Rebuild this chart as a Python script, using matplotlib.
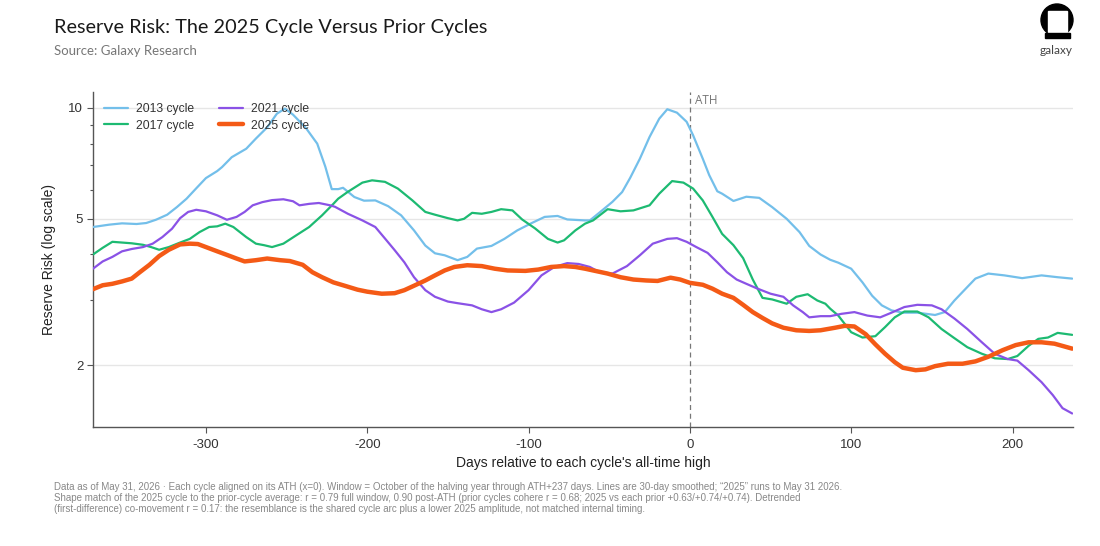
import matplotlib
matplotlib.use("Agg")
import matplotlib.pyplot as plt
from matplotlib.ticker import FixedLocator, NullFormatter, FuncFormatter
from matplotlib.patches import Circle, Rectangle

# ---------------- data ----------------
days_2013 = [-370, -360, -352, -343, -337, -331, -324, -318, -312, -306, -300, -293, -290, -284,
             -275, -269, -262, -256, -251, -246, -238, -231, -226, -222, -218, -215, -208, -202,
             -195, -187, -179, -171, -164, -158, -152, -144, -138, -132, -123, -115, -107, -98,
             -90, -82, -76, -65, -62, -56, -48, -42, -37, -31, -25, -19, -14, -8, -2, 2, 8, 12,
             17, 20, 27, 35, 43, 51, 60, 68, 74, 81, 87, 92, 100, 107, 113, 119, 125, 132, 141,
             152, 158, 164, 171, 177, 185, 195, 206, 218, 228, 237]
rr_2013 = [4.75, 4.82, 4.86, 4.84, 4.87, 4.97, 5.13, 5.38, 5.67, 6.05, 6.45, 6.74, 6.91, 7.35,
           7.75, 8.26, 8.86, 9.65, 9.96, 9.59, 8.82, 8.00, 6.93, 6.02, 6.02, 6.07, 5.73, 5.60,
           5.61, 5.41, 5.11, 4.65, 4.23, 4.03, 3.98, 3.86, 3.94, 4.15, 4.22, 4.41, 4.65, 4.87,
           5.06, 5.09, 4.98, 4.95, 4.95, 5.20, 5.56, 5.91, 6.46, 7.28, 8.34, 9.35, 9.92, 9.71,
           9.17, 8.43, 7.28, 6.57, 5.94, 5.85, 5.59, 5.74, 5.70, 5.38, 5.00, 4.60, 4.22, 4.00,
           3.87, 3.80, 3.66, 3.36, 3.09, 2.91, 2.82, 2.78, 2.78, 2.74, 2.79, 3.00, 3.23, 3.44,
           3.55, 3.51, 3.45, 3.51, 3.47, 3.44]

days_2017 = [-370, -364, -358, -352, -346, -339, -334, -329, -323, -316, -310, -304, -298, -293,
             -288, -283, -275, -269, -264, -259, -252, -244, -236, -228, -221, -218, -212, -203,
             -197, -189, -181, -172, -164, -158, -150, -144, -140, -135, -129, -123, -117, -110,
             -104, -96, -88, -82, -78, -71, -65, -60, -51, -43, -35, -25, -19, -11, -4, 2, 8, 14,
             20, 27, 33, 39, 45, 51, 60, 66, 73, 79, 84, 87, 92, 100, 107, 115, 121, 127, 133,
             141, 148, 156, 164, 172, 181, 189, 197, 203, 210, 216, 222, 228, 237]
rr_2017 = [4.00, 4.17, 4.33, 4.31, 4.29, 4.25, 4.19, 4.12, 4.19, 4.31, 4.41, 4.60, 4.75, 4.77,
           4.85, 4.75, 4.46, 4.28, 4.24, 4.19, 4.28, 4.51, 4.75, 5.11, 5.49, 5.67, 5.92, 6.27,
           6.36, 6.30, 6.04, 5.61, 5.22, 5.13, 5.02, 4.95, 5.00, 5.19, 5.16, 5.22, 5.31, 5.27,
           4.98, 4.71, 4.41, 4.31, 4.37, 4.65, 4.85, 4.95, 5.31, 5.24, 5.27, 5.44, 5.85, 6.33,
           6.27, 6.04, 5.61, 5.06, 4.55, 4.24, 3.91, 3.42, 3.05, 3.02, 2.94, 3.07, 3.12, 3.00,
           2.94, 2.85, 2.73, 2.46, 2.38, 2.40, 2.54, 2.70, 2.80, 2.80, 2.70, 2.51, 2.37, 2.24,
           2.15, 2.09, 2.08, 2.12, 2.26, 2.36, 2.38, 2.45, 2.42]

days_2021 = [-370, -364, -358, -352, -346, -339, -333, -327, -321, -316, -311, -306, -300, -293,
             -287, -281, -276, -271, -265, -259, -252, -246, -242, -236, -230, -223, -220, -212,
             -203, -195, -189, -183, -177, -171, -164, -158, -150, -144, -135, -129, -123, -117,
             -109, -100, -92, -84, -76, -69, -62, -56, -48, -39, -31, -23, -14, -8, -2, 4, 11, 17,
             23, 29, 35, 42, 50, 58, 64, 70, 74, 81, 87, 94, 102, 110, 118, 125, 133, 141, 150,
             156, 164, 172, 181, 189, 197, 203, 210, 218, 225, 231, 237]
rr_2021 = [3.66, 3.83, 3.94, 4.08, 4.14, 4.19, 4.28, 4.46, 4.70, 5.02, 5.22, 5.29, 5.24, 5.11,
           4.97, 5.06, 5.22, 5.44, 5.55, 5.62, 5.65, 5.58, 5.44, 5.49, 5.52, 5.44, 5.39, 5.16,
           4.95, 4.75, 4.42, 4.11, 3.81, 3.47, 3.20, 3.07, 2.98, 2.95, 2.91, 2.84, 2.79, 2.84,
           2.96, 3.20, 3.51, 3.70, 3.79, 3.77, 3.70, 3.58, 3.55, 3.72, 3.98, 4.28, 4.41, 4.43,
           4.33, 4.19, 4.04, 3.81, 3.58, 3.42, 3.33, 3.23, 3.13, 3.07, 2.91, 2.79, 2.70, 2.72,
           2.72, 2.76, 2.79, 2.73, 2.70, 2.78, 2.88, 2.92, 2.91, 2.84, 2.68, 2.51, 2.31, 2.15,
           2.08, 2.06, 1.94, 1.80, 1.66, 1.53, 1.48]

days_2025 = [-370, -364, -358, -352, -346, -341, -335, -329, -323, -316, -310, -305, -300, -293,
             -287, -281, -276, -269, -262, -254, -248, -240, -234, -228, -221, -214, -206, -200,
             -191, -183, -177, -171, -164, -158, -152, -146, -138, -129, -121, -113, -102, -94,
             -86, -78, -71, -65, -60, -51, -43, -35, -27, -20, -12, -6, 0, 8, 14, 20, 27, 33, 39,
             45, 51, 58, 66, 74, 81, 90, 96, 102, 109, 115, 121, 127, 132, 140, 146, 152, 160,
             169, 177, 185, 194, 202, 210, 218, 226, 237]
rr_2025 = [3.22, 3.30, 3.33, 3.38, 3.44, 3.58, 3.75, 3.96, 4.12, 4.26, 4.28, 4.27, 4.19, 4.08,
           3.99, 3.90, 3.83, 3.86, 3.90, 3.86, 3.84, 3.75, 3.58, 3.47, 3.36, 3.29, 3.21, 3.17,
           3.13, 3.14, 3.20, 3.29, 3.40, 3.51, 3.62, 3.70, 3.74, 3.72, 3.66, 3.62, 3.61, 3.64,
           3.70, 3.72, 3.70, 3.66, 3.62, 3.55, 3.47, 3.42, 3.40, 3.39, 3.46, 3.42, 3.35, 3.31,
           3.23, 3.13, 3.05, 2.92, 2.79, 2.69, 2.60, 2.53, 2.49, 2.48, 2.49, 2.53, 2.56, 2.55,
           2.43, 2.28, 2.15, 2.04, 1.97, 1.94, 1.95, 1.99, 2.02, 2.02, 2.05, 2.11, 2.20, 2.27,
           2.31, 2.31, 2.29, 2.22]

series_labels = ["2013 cycle", "2017 cycle", "2021 cycle", "2025 cycle"]
y_major = [2, 5, 10]
y_minor = [3, 4, 6, 7, 8, 9]
x_ticks = [-300, -200, -100, 0, 100, 200]

title = "Reserve Risk: The 2025 Cycle Versus Prior Cycles"
subtitle = "Source: Galaxy Research"
footnote = ("Data as of May 31, 2026 \u00b7 Each cycle aligned on its ATH (x=0). Window = October of the halving year "
            "through ATH+237 days. Lines are 30-day smoothed; \u201c2025\u201d runs to May 31 2026.\n"
            "Shape match of the 2025 cycle to the prior-cycle average: r = 0.79 full window, 0.90 post-ATH "
            "(prior cycles cohere r = 0.68; 2025 vs each prior +0.63/+0.74/+0.74). Detrended\n"
            "(first-difference) co-movement r = 0.17: the resemblance is the shared cycle arc plus a lower "
            "2025 amplitude, not matched internal timing.")

# ---------------- styling ----------------
plt.rcParams['font.family'] = ['Liberation Sans', 'DejaVu Sans']
W, H = 1100, 546
fig = plt.figure(figsize=(W / 100, H / 100), dpi=100)
fig.patch.set_facecolor("white")

ax = fig.add_axes([93 / W, 1 - 427 / H, (1073 - 93) / W, (427 - 92) / H])
ax.set_yscale("log")

colors = ["#73BFEA", "#1DBA72", "#8A52E6", "#F45A16"]
widths = [1.6, 1.6, 1.6, 3.2]
data = [(days_2013, rr_2013), (days_2017, rr_2017), (days_2021, rr_2021), (days_2025, rr_2025)]
for (dx, dy), c, lw, lab in zip(data, colors, widths, series_labels):
    ax.plot(dx, dy, color=c, lw=lw, label=lab, solid_capstyle="round", solid_joinstyle="round",
            zorder=4 if lab == "2025 cycle" else 3)

ax.set_xlim(-370, 237.5)
ax.set_ylim(1.36, 11.05)

ax.yaxis.set_major_locator(FixedLocator(y_major))
ax.yaxis.set_minor_locator(FixedLocator(y_minor))
ax.yaxis.set_major_formatter(FuncFormatter(lambda v, p: f"{v:g}"))
ax.yaxis.set_minor_formatter(NullFormatter())
ax.set_xticks(x_ticks)
ax.set_xticklabels([f"{t:g}" for t in x_ticks])

ax.grid(axis="y", which="major", color="#E6E6E6", lw=1.0, zorder=0)
ax.grid(axis="x", visible=False)
for s in ["top", "right"]:
    ax.spines[s].set_visible(False)
for s in ["left", "bottom"]:
    ax.spines[s].set_color("#555555")
    ax.spines[s].set_linewidth(1.0)
ax.tick_params(axis="both", which="major", length=4, width=0.8, color="#555555",
               labelsize=9.5, labelcolor="#333333")
ax.tick_params(axis="y", which="major", pad=3)
ax.tick_params(axis="x", which="major", pad=5)
ax.tick_params(axis="y", which="minor", length=2.5, width=0.8, color="#555555")

ax.axvline(0, color="#777777", lw=0.9, ls=(0, (4, 3)), zorder=2)
ax.text(3, 10.51, "ATH", fontsize=8.5, color="#777777", va="center", ha="left",
        transform=ax.transData, family="Open Sans")

ax.set_xlabel("Days relative to each cycle's all-time high", fontsize=10, color="#222222", labelpad=3)
ax.set_ylabel("Reserve Risk (log scale)", fontsize=10, color="#222222", labelpad=9)

leg = ax.legend(loc="upper left", ncol=2, frameon=False, fontsize=8.7, handlelength=2.0,
                columnspacing=2.0, handletextpad=0.7, labelspacing=0.4,
                bbox_to_anchor=(0.0, 1.0), labelcolor="#333333", borderaxespad=0.5)

fig.text(54 / W, 1 - 28 / H, title, fontsize=14.3, color="#1A1A1A", va="center", ha="left", family="Lato")
fig.text(54 / W, 1 - 51 / H, subtitle, fontsize=9.5, color="#777777", va="center", ha="left", family="Lato")
fig.text(54 / W, 1 - 482 / H, footnote, fontsize=7, color="#888888", va="top", ha="left",
         linespacing=1.15)

# logo
lax = fig.add_axes([1035 / W, 1 - 42 / H, 44 / W, 40 / H])
lax.set_xlim(0, 44)
lax.set_ylim(0, 40)
lax.set_aspect("equal")
lax.axis("off")
lax.add_patch(Circle((22, 22), 16, color="black"))
lax.add_patch(Rectangle((12.5, 10), 19, 21.5, color="white"))
lax.add_patch(Rectangle((9.5, 4.5), 25, 5, color="black"))
fig.text(1056 / W, 1 - 51 / H, "galaxy", fontsize=8.5, color="#444444", ha="center", va="center", family="Lato")

fig.savefig("out.png", dpi=100, facecolor="white")
